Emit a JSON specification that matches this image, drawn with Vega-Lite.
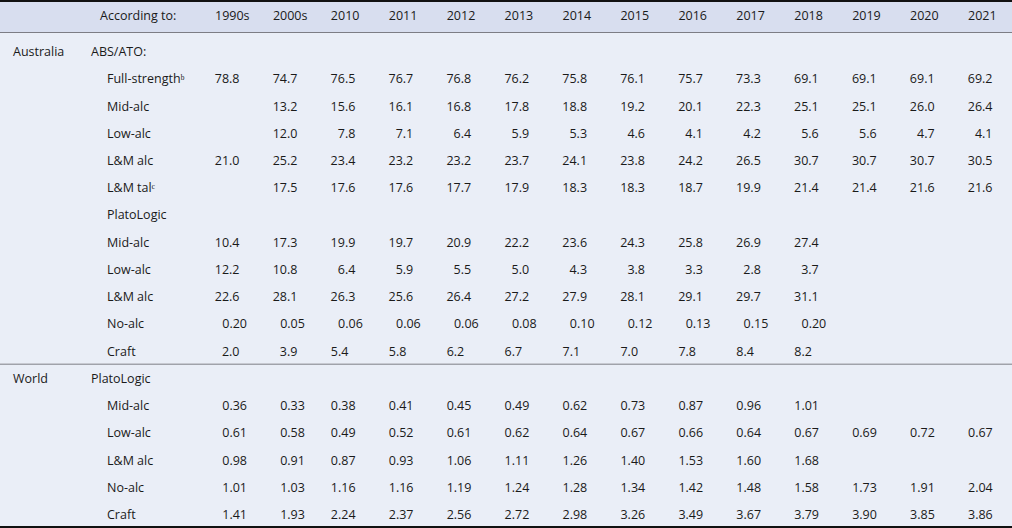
{
  "$schema": "https://vega.github.io/schema/vega-lite/v6.json",
  "width": 1012,
  "height": 528,
  "padding": 0,
  "autosize": {"type": "none"},
  "background": "#eaeef7",
  "config": {
    "view": {"stroke": null},
    "text": {"font": "Open Sans", "fontSize": 12.5, "color": "#1a1a1a", "baseline": "middle", "align": "left"}
  },
  "datasets": {
    "cols": [
      {"c": "1990s"}, {"c": "2000s"}, {"c": "2010"}, {"c": "2011"}, {"c": "2012"}, {"c": "2013"}, {"c": "2014"},
      {"c": "2015"}, {"c": "2016"}, {"c": "2017"}, {"c": "2018"}, {"c": "2019"}, {"c": "2020"}, {"c": "2021"}
    ],
    "labels": [
      {"r": "r01", "level": "region", "t": "Australia"},
      {"r": "r01", "level": "group", "t": "ABS/ATO:"},
      {"r": "r02", "level": "item", "t": "Full-strength\u1d47"},
      {"r": "r03", "level": "item", "t": "Mid-alc"},
      {"r": "r04", "level": "item", "t": "Low-alc"},
      {"r": "r05", "level": "item", "t": "L&M alc"},
      {"r": "r06", "level": "item", "t": "L&M tal\u1d9c"},
      {"r": "r07", "level": "item", "t": "PlatoLogic"},
      {"r": "r08", "level": "item", "t": "Mid-alc"},
      {"r": "r09", "level": "item", "t": "Low-alc"},
      {"r": "r10", "level": "item", "t": "L&M alc"},
      {"r": "r11", "level": "item", "t": "No-alc"},
      {"r": "r12", "level": "item", "t": "Craft"},
      {"r": "r13", "level": "region", "t": "World"},
      {"r": "r13", "level": "group", "t": "PlatoLogic"},
      {"r": "r14", "level": "item", "t": "Mid-alc"},
      {"r": "r15", "level": "item", "t": "Low-alc"},
      {"r": "r16", "level": "item", "t": "L&M alc"},
      {"r": "r17", "level": "item", "t": "No-alc"},
      {"r": "r18", "level": "item", "t": "Craft"}
    ],
    "cells": [
      {"r": "r02", "c": "1990s", "v": "78.8"}, {"r": "r02", "c": "2000s", "v": "74.7"}, {"r": "r02", "c": "2010", "v": "76.5"},
      {"r": "r02", "c": "2011", "v": "76.7"}, {"r": "r02", "c": "2012", "v": "76.8"}, {"r": "r02", "c": "2013", "v": "76.2"},
      {"r": "r02", "c": "2014", "v": "75.8"}, {"r": "r02", "c": "2015", "v": "76.1"}, {"r": "r02", "c": "2016", "v": "75.7"},
      {"r": "r02", "c": "2017", "v": "73.3"}, {"r": "r02", "c": "2018", "v": "69.1"}, {"r": "r02", "c": "2019", "v": "69.1"},
      {"r": "r02", "c": "2020", "v": "69.1"}, {"r": "r02", "c": "2021", "v": "69.2"},

      {"r": "r03", "c": "2000s", "v": "13.2"}, {"r": "r03", "c": "2010", "v": "15.6"},
      {"r": "r03", "c": "2011", "v": "16.1"}, {"r": "r03", "c": "2012", "v": "16.8"}, {"r": "r03", "c": "2013", "v": "17.8"},
      {"r": "r03", "c": "2014", "v": "18.8"}, {"r": "r03", "c": "2015", "v": "19.2"}, {"r": "r03", "c": "2016", "v": "20.1"},
      {"r": "r03", "c": "2017", "v": "22.3"}, {"r": "r03", "c": "2018", "v": "25.1"}, {"r": "r03", "c": "2019", "v": "25.1"},
      {"r": "r03", "c": "2020", "v": "26.0"}, {"r": "r03", "c": "2021", "v": "26.4"},

      {"r": "r04", "c": "2000s", "v": "12.0"}, {"r": "r04", "c": "2010", "v": "7.8"},
      {"r": "r04", "c": "2011", "v": "7.1"}, {"r": "r04", "c": "2012", "v": "6.4"}, {"r": "r04", "c": "2013", "v": "5.9"},
      {"r": "r04", "c": "2014", "v": "5.3"}, {"r": "r04", "c": "2015", "v": "4.6"}, {"r": "r04", "c": "2016", "v": "4.1"},
      {"r": "r04", "c": "2017", "v": "4.2"}, {"r": "r04", "c": "2018", "v": "5.6"}, {"r": "r04", "c": "2019", "v": "5.6"},
      {"r": "r04", "c": "2020", "v": "4.7"}, {"r": "r04", "c": "2021", "v": "4.1"},

      {"r": "r05", "c": "1990s", "v": "21.0"}, {"r": "r05", "c": "2000s", "v": "25.2"}, {"r": "r05", "c": "2010", "v": "23.4"},
      {"r": "r05", "c": "2011", "v": "23.2"}, {"r": "r05", "c": "2012", "v": "23.2"}, {"r": "r05", "c": "2013", "v": "23.7"},
      {"r": "r05", "c": "2014", "v": "24.1"}, {"r": "r05", "c": "2015", "v": "23.8"}, {"r": "r05", "c": "2016", "v": "24.2"},
      {"r": "r05", "c": "2017", "v": "26.5"}, {"r": "r05", "c": "2018", "v": "30.7"}, {"r": "r05", "c": "2019", "v": "30.7"},
      {"r": "r05", "c": "2020", "v": "30.7"}, {"r": "r05", "c": "2021", "v": "30.5"},

      {"r": "r06", "c": "2000s", "v": "17.5"}, {"r": "r06", "c": "2010", "v": "17.6"},
      {"r": "r06", "c": "2011", "v": "17.6"}, {"r": "r06", "c": "2012", "v": "17.7"}, {"r": "r06", "c": "2013", "v": "17.9"},
      {"r": "r06", "c": "2014", "v": "18.3"}, {"r": "r06", "c": "2015", "v": "18.3"}, {"r": "r06", "c": "2016", "v": "18.7"},
      {"r": "r06", "c": "2017", "v": "19.9"}, {"r": "r06", "c": "2018", "v": "21.4"}, {"r": "r06", "c": "2019", "v": "21.4"},
      {"r": "r06", "c": "2020", "v": "21.6"}, {"r": "r06", "c": "2021", "v": "21.6"},

      {"r": "r08", "c": "1990s", "v": "10.4"}, {"r": "r08", "c": "2000s", "v": "17.3"}, {"r": "r08", "c": "2010", "v": "19.9"},
      {"r": "r08", "c": "2011", "v": "19.7"}, {"r": "r08", "c": "2012", "v": "20.9"}, {"r": "r08", "c": "2013", "v": "22.2"},
      {"r": "r08", "c": "2014", "v": "23.6"}, {"r": "r08", "c": "2015", "v": "24.3"}, {"r": "r08", "c": "2016", "v": "25.8"},
      {"r": "r08", "c": "2017", "v": "26.9"}, {"r": "r08", "c": "2018", "v": "27.4"},

      {"r": "r09", "c": "1990s", "v": "12.2"}, {"r": "r09", "c": "2000s", "v": "10.8"}, {"r": "r09", "c": "2010", "v": "6.4"},
      {"r": "r09", "c": "2011", "v": "5.9"}, {"r": "r09", "c": "2012", "v": "5.5"}, {"r": "r09", "c": "2013", "v": "5.0"},
      {"r": "r09", "c": "2014", "v": "4.3"}, {"r": "r09", "c": "2015", "v": "3.8"}, {"r": "r09", "c": "2016", "v": "3.3"},
      {"r": "r09", "c": "2017", "v": "2.8"}, {"r": "r09", "c": "2018", "v": "3.7"},

      {"r": "r10", "c": "1990s", "v": "22.6"}, {"r": "r10", "c": "2000s", "v": "28.1"}, {"r": "r10", "c": "2010", "v": "26.3"},
      {"r": "r10", "c": "2011", "v": "25.6"}, {"r": "r10", "c": "2012", "v": "26.4"}, {"r": "r10", "c": "2013", "v": "27.2"},
      {"r": "r10", "c": "2014", "v": "27.9"}, {"r": "r10", "c": "2015", "v": "28.1"}, {"r": "r10", "c": "2016", "v": "29.1"},
      {"r": "r10", "c": "2017", "v": "29.7"}, {"r": "r10", "c": "2018", "v": "31.1"},

      {"r": "r11", "c": "1990s", "v": "0.20"}, {"r": "r11", "c": "2000s", "v": "0.05"}, {"r": "r11", "c": "2010", "v": "0.06"},
      {"r": "r11", "c": "2011", "v": "0.06"}, {"r": "r11", "c": "2012", "v": "0.06"}, {"r": "r11", "c": "2013", "v": "0.08"},
      {"r": "r11", "c": "2014", "v": "0.10"}, {"r": "r11", "c": "2015", "v": "0.12"}, {"r": "r11", "c": "2016", "v": "0.13"},
      {"r": "r11", "c": "2017", "v": "0.15"}, {"r": "r11", "c": "2018", "v": "0.20"},

      {"r": "r12", "c": "1990s", "v": "2.0"}, {"r": "r12", "c": "2000s", "v": "3.9"}, {"r": "r12", "c": "2010", "v": "5.4"},
      {"r": "r12", "c": "2011", "v": "5.8"}, {"r": "r12", "c": "2012", "v": "6.2"}, {"r": "r12", "c": "2013", "v": "6.7"},
      {"r": "r12", "c": "2014", "v": "7.1"}, {"r": "r12", "c": "2015", "v": "7.0"}, {"r": "r12", "c": "2016", "v": "7.8"},
      {"r": "r12", "c": "2017", "v": "8.4"}, {"r": "r12", "c": "2018", "v": "8.2"},

      {"r": "r14", "c": "1990s", "v": "0.36"}, {"r": "r14", "c": "2000s", "v": "0.33"}, {"r": "r14", "c": "2010", "v": "0.38"},
      {"r": "r14", "c": "2011", "v": "0.41"}, {"r": "r14", "c": "2012", "v": "0.45"}, {"r": "r14", "c": "2013", "v": "0.49"},
      {"r": "r14", "c": "2014", "v": "0.62"}, {"r": "r14", "c": "2015", "v": "0.73"}, {"r": "r14", "c": "2016", "v": "0.87"},
      {"r": "r14", "c": "2017", "v": "0.96"}, {"r": "r14", "c": "2018", "v": "1.01"},

      {"r": "r15", "c": "1990s", "v": "0.61"}, {"r": "r15", "c": "2000s", "v": "0.58"}, {"r": "r15", "c": "2010", "v": "0.49"},
      {"r": "r15", "c": "2011", "v": "0.52"}, {"r": "r15", "c": "2012", "v": "0.61"}, {"r": "r15", "c": "2013", "v": "0.62"},
      {"r": "r15", "c": "2014", "v": "0.64"}, {"r": "r15", "c": "2015", "v": "0.67"}, {"r": "r15", "c": "2016", "v": "0.66"},
      {"r": "r15", "c": "2017", "v": "0.64"}, {"r": "r15", "c": "2018", "v": "0.67"}, {"r": "r15", "c": "2019", "v": "0.69"},
      {"r": "r15", "c": "2020", "v": "0.72"}, {"r": "r15", "c": "2021", "v": "0.67"},

      {"r": "r16", "c": "1990s", "v": "0.98"}, {"r": "r16", "c": "2000s", "v": "0.91"}, {"r": "r16", "c": "2010", "v": "0.87"},
      {"r": "r16", "c": "2011", "v": "0.93"}, {"r": "r16", "c": "2012", "v": "1.06"}, {"r": "r16", "c": "2013", "v": "1.11"},
      {"r": "r16", "c": "2014", "v": "1.26"}, {"r": "r16", "c": "2015", "v": "1.40"}, {"r": "r16", "c": "2016", "v": "1.53"},
      {"r": "r16", "c": "2017", "v": "1.60"}, {"r": "r16", "c": "2018", "v": "1.68"},

      {"r": "r17", "c": "1990s", "v": "1.01"}, {"r": "r17", "c": "2000s", "v": "1.03"}, {"r": "r17", "c": "2010", "v": "1.16"},
      {"r": "r17", "c": "2011", "v": "1.16"}, {"r": "r17", "c": "2012", "v": "1.19"}, {"r": "r17", "c": "2013", "v": "1.24"},
      {"r": "r17", "c": "2014", "v": "1.28"}, {"r": "r17", "c": "2015", "v": "1.34"}, {"r": "r17", "c": "2016", "v": "1.42"},
      {"r": "r17", "c": "2017", "v": "1.48"}, {"r": "r17", "c": "2018", "v": "1.58"}, {"r": "r17", "c": "2019", "v": "1.73"},
      {"r": "r17", "c": "2020", "v": "1.91"}, {"r": "r17", "c": "2021", "v": "2.04"},

      {"r": "r18", "c": "1990s", "v": "1.41"}, {"r": "r18", "c": "2000s", "v": "1.93"}, {"r": "r18", "c": "2010", "v": "2.24"},
      {"r": "r18", "c": "2011", "v": "2.37"}, {"r": "r18", "c": "2012", "v": "2.56"}, {"r": "r18", "c": "2013", "v": "2.72"},
      {"r": "r18", "c": "2014", "v": "2.98"}, {"r": "r18", "c": "2015", "v": "3.26"}, {"r": "r18", "c": "2016", "v": "3.49"},
      {"r": "r18", "c": "2017", "v": "3.67"}, {"r": "r18", "c": "2018", "v": "3.79"}, {"r": "r18", "c": "2019", "v": "3.90"},
      {"r": "r18", "c": "2020", "v": "3.85"}, {"r": "r18", "c": "2021", "v": "3.86"}
    ]
  },
  "resolve": {"scale": {"x": "shared", "y": "shared"}},
  "layer": [
    {
      "data": {"values": [{"k": "band"}]},
      "mark": {"type": "rule", "color": "#d8deef", "strokeWidth": 30, "strokeCap": "butt"},
      "encoding": {
        "y": {"datum": "hdr", "type": "nominal", "scale": {"type": "point", "domain": ["hdr", "r01", "r02", "r03", "r04", "r05", "r06", "r07", "r08", "r09", "r10", "r11", "r12", "r13", "r14", "r15", "r16", "r17", "r18"], "padding": 0.692, "align": 0.658}, "axis": null},
        "yOffset": {"value": -7.8}
      }
    },
    {
      "data": {"values": [{"k": "top"}]},
      "mark": {"type": "rule", "color": "#111111", "strokeWidth": 2},
      "encoding": {"y": {"datum": "hdr", "type": "nominal", "axis": null}, "yOffset": {"value": -23.8}}
    },
    {
      "data": {"values": [{"k": "hdrline"}]},
      "mark": {"type": "rule", "color": "#7d7d85", "strokeWidth": 1},
      "encoding": {"y": {"datum": "hdr", "type": "nominal", "axis": null}, "yOffset": {"value": 7.7}}
    },
    {
      "data": {"values": [{"k": "sep"}]},
      "mark": {"type": "rule", "color": "#7d7d85", "strokeWidth": 1},
      "encoding": {"y": {"datum": "r12", "type": "nominal", "axis": null}, "yOffset": {"value": 12.5}}
    },
    {
      "data": {"values": [{"k": "bottom"}]},
      "mark": {"type": "rule", "color": "#111111", "strokeWidth": 2},
      "encoding": {"y": {"datum": "r18", "type": "nominal", "axis": null}, "yOffset": {"value": 12}}
    },
    {
      "data": {"name": "cols"},
      "mark": {"type": "text", "dy": -8.8},
      "encoding": {
        "x": {"field": "c", "type": "nominal", "scale": {"type": "point", "domain": ["1990s", "2000s", "2010", "2011", "2012", "2013", "2014", "2015", "2016", "2017", "2018", "2019", "2020", "2021"], "padding": 0, "range": [215, 968]}, "axis": null},
        "y": {"datum": "hdr", "type": "nominal", "axis": null},
        "text": {"field": "c"}
      }
    },
    {
      "data": {"values": [{"t": "According to:"}]},
      "mark": {"type": "text", "dy": -8.8, "dx": -115},
      "encoding": {
        "x": {"datum": "1990s", "type": "nominal", "axis": null},
        "y": {"datum": "hdr", "type": "nominal", "axis": null},
        "text": {"field": "t"}
      }
    },
    {
      "data": {"name": "cells"},
      "transform": [{"filter": "!(datum.r === 'r11' || datum.r >= 'r14' || (datum.r === 'r12' && datum.c !== '1990s' && datum.c !== '2000s'))"}],
      "mark": {"type": "text", "align": "right", "dx": 24.5},
      "encoding": {
        "x": {"field": "c", "type": "nominal", "axis": null},
        "y": {"field": "r", "type": "nominal", "axis": null},
        "text": {"field": "v"}
      }
    },
    {
      "data": {"name": "cells"},
      "transform": [{"filter": "datum.r === 'r11' || (datum.r >= 'r14' && (datum.c === '1990s' || datum.c === '2000s'))"}],
      "mark": {"type": "text", "align": "right", "dx": 32}, 
      "encoding": {
        "x": {"field": "c", "type": "nominal", "axis": null},
        "y": {"field": "r", "type": "nominal", "axis": null},
        "text": {"field": "v"}
      }
    },
    {
      "data": {"name": "cells"},
      "transform": [{"filter": "(datum.r === 'r12' || datum.r >= 'r14') && datum.c !== '1990s' && datum.c !== '2000s'"}],
      "mark": {"type": "text", "align": "left"},
      "encoding": {
        "x": {"field": "c", "type": "nominal", "axis": null},
        "y": {"field": "r", "type": "nominal", "axis": null},
        "text": {"field": "v"}
      }
    },
    {
      "data": {"name": "labels"},
      "transform": [{"filter": "datum.level === 'region'"}],
      "mark": {"type": "text", "dx": -202},
      "encoding": {
        "x": {"datum": "1990s", "type": "nominal", "axis": null},
        "y": {"field": "r", "type": "nominal", "axis": null},
        "text": {"field": "t"}
      }
    },
    {
      "data": {"name": "labels"},
      "transform": [{"filter": "datum.level === 'group'"}],
      "mark": {"type": "text", "dx": -124},
      "encoding": {
        "x": {"datum": "1990s", "type": "nominal", "axis": null},
        "y": {"field": "r", "type": "nominal", "axis": null},
        "text": {"field": "t"}
      }
    },
    {
      "data": {"name": "labels"},
      "transform": [{"filter": "datum.level === 'item'"}],
      "mark": {"type": "text", "dx": -108},
      "encoding": {
        "x": {"datum": "1990s", "type": "nominal", "axis": null},
        "y": {"field": "r", "type": "nominal", "axis": null},
        "text": {"field": "t"}
      }
    }
  ]
}
